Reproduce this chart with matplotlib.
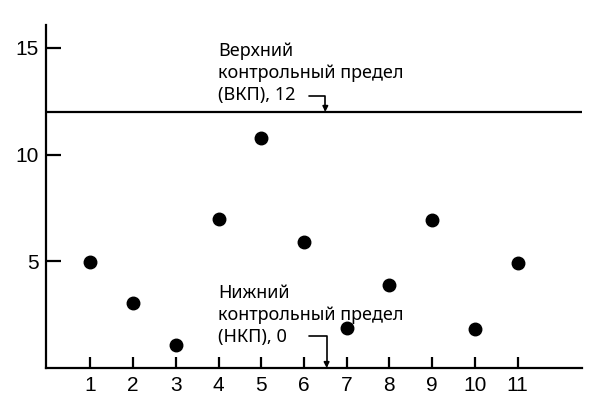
import matplotlib
matplotlib.use("Agg")
import matplotlib.pyplot as plt

samples = [1, 2, 3, 4, 5, 6, 7, 8, 9, 10, 11]
values = [4.95, 3.05, 1.1, 7, 10.8, 5.9, 1.86, 3.89, 6.95, 1.85, 4.92]
ucl = 12
lcl = 0
y_ticks = [5, 10, 15]
ucl_text = "Верхний\nконтрольный предел\n(ВКП), 12"
lcl_text = "Нижний\nконтрольный предел\n(НКП), 0"

fig = plt.figure(figsize=(6.04, 4.03), dpi=100)
ax = fig.add_axes([0.0757, 0.0868, 0.888, 0.851])

ax.plot(samples, values, 'o', color='black', markersize=9, linestyle='none')
ax.axhline(ucl, color='black', linewidth=1.6)

ax.set_xlim(-0.045, 12.51)
ax.set_ylim(0, 16.07)
ax.set_xticks(samples)
ax.set_yticks(y_ticks)
for s in ['top', 'right']:
    ax.spines[s].set_visible(False)
for s in ['left', 'bottom']:
    ax.spines[s].set_linewidth(1.6)
ax.tick_params(axis='x', direction='in', length=8.2, width=1.6, pad=6, labelsize=15)
ax.tick_params(axis='y', direction='in', length=11, width=1.6, pad=5, labelsize=15)
for lab in ax.get_xticklabels() + ax.get_yticklabels():
    lab.set_fontfamily('Liberation Sans')

ax.text(3.99, 12.56, ucl_text, ha='left', va='baseline', fontsize=13,
        family='Noto Sans', linespacing=1.3)
ax.text(3.99, 1.22, lcl_text, ha='left', va='baseline', fontsize=13,
        family='Noto Sans', linespacing=1.3)

arrow = dict(arrowstyle='-|>', color='black', lw=1.2, mutation_scale=8,
             connectionstyle='angle,angleA=0,angleB=90,rad=0',
             shrinkA=0, shrinkB=0)
ax.annotate('', xy=(6.5, ucl), xytext=(6.12, 12.75), arrowprops=arrow)
ax.annotate('', xy=(6.53, lcl), xytext=(6.12, 1.5), arrowprops=arrow)

fig.savefig('out.png', dpi=100)
